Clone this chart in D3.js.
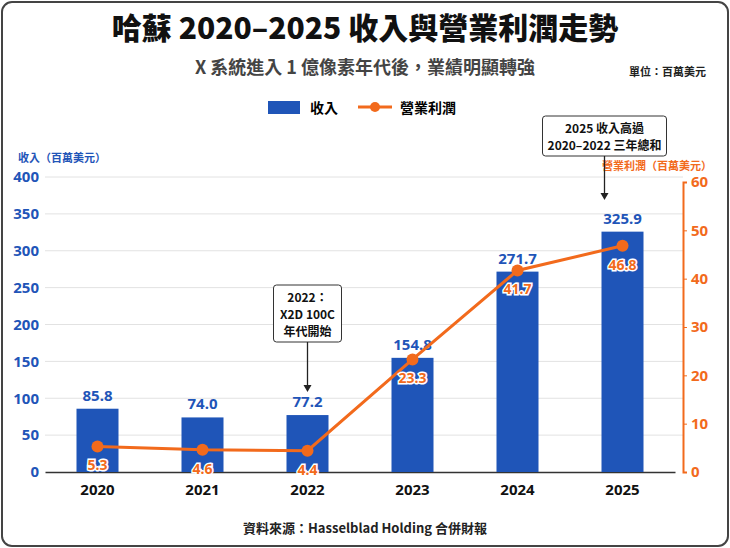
<!DOCTYPE html>
<html><head><meta charset="utf-8">
<script src="https://cdn.jsdelivr.net/npm/d3@7"></script>
<style>body{margin:0;background:#fff;font-family:"Noto Sans CJK TC","Noto Sans",sans-serif}</style>
</head><body><div id="chart"></div>
<script>
var years = ["2020", "2021", "2022", "2023", "2024", "2025"];
var revenue = [85.8, 74.0, 77.2, 154.8, 271.7, 325.9];
var profit = [5.3, 4.6, 4.4, 23.3, 41.7, 46.8];
var leftTicks = [0, 50, 100, 150, 200, 250, 300, 350, 400];
var rightTicks = [0, 10, 20, 30, 40, 50, 60];

var W = 730, H = 548;
var blue = "#1f55b8", orange = "#f26a1c";
var svg = d3.select("#chart").append("svg").attr("width", W).attr("height", H);

svg.append("rect").attr("x", 2).attr("y", 2).attr("width", W - 4).attr("height", H - 4)
    .attr("rx", 10).attr("fill", "#fff").attr("stroke", "#444").attr("stroke-width", 2);

svg.append("text").attr("x", 365).attr("y", 39).attr("text-anchor", "middle")
    .attr("font-size", 30).attr("font-weight", 900).attr("fill", "#111")
    .text("哈蘇 2020–2025 收入與營業利潤走勢");
svg.append("text").attr("x", 365).attr("y", 74).attr("text-anchor", "middle")
    .attr("font-size", 18).attr("font-weight", 700).attr("fill", "#444")
    .text("X 系統進入 1 億像素年代後，業績明顯轉強");
svg.append("text").attr("x", 706).attr("y", 76).attr("text-anchor", "end")
    .attr("font-size", 11).attr("font-weight", 700).attr("fill", "#222").text("單位：百萬美元");

// legend
svg.append("rect").attr("x", 268).attr("y", 101).attr("width", 32).attr("height", 13).attr("fill", blue);
svg.append("text").attr("x", 310).attr("y", 113).attr("font-size", 14).attr("font-weight", 700).text("收入");
svg.append("line").attr("x1", 358).attr("x2", 392).attr("y1", 107).attr("y2", 107).attr("stroke", orange).attr("stroke-width", 3);
svg.append("circle").attr("cx", 375).attr("cy", 107).attr("r", 5).attr("fill", orange);
svg.append("text").attr("x", 400).attr("y", 113).attr("font-size", 14).attr("font-weight", 700).text("營業利潤");

var x = d3.scaleBand().domain(years).range([45, 675]).paddingInner(0.6).paddingOuter(0.3);
var yL = d3.scaleLinear().domain([0, 400]).range([472, 177]);
var yR = d3.scaleLinear().domain([0, 60]).range([472, 182]);

// grid
svg.append("g").selectAll("line").data(leftTicks.slice(1)).enter().append("line")
    .attr("x1", 45).attr("x2", 683).attr("y1", d => yL(d)).attr("y2", d => yL(d))
    .attr("stroke", "#e2e2e2");

var gl = svg.append("g").attr("transform", "translate(45,0)")
    .call(d3.axisLeft(yL).tickValues(leftTicks).tickSize(0).tickPadding(6));
gl.select(".domain").remove();
gl.selectAll("text").attr("fill", blue).attr("font-size", 15).attr("font-weight", 700)
    .attr("font-family", "Noto Sans, sans-serif");

var gr = svg.append("g").attr("transform", "translate(683,0)")
    .call(d3.axisRight(yR).tickValues(rightTicks).tickSize(4).tickPadding(4));
gr.select(".domain").attr("stroke", orange).attr("stroke-width", 2);
gr.selectAll("line").attr("stroke", orange);
gr.selectAll("text").attr("fill", orange).attr("font-size", 15).attr("font-weight", 700)
    .attr("font-family", "Noto Sans, sans-serif");

svg.append("text").attr("x", 18).attr("y", 162).attr("font-size", 11).attr("font-weight", 700)
    .attr("fill", blue).text("收入（百萬美元）");
svg.append("text").attr("x", 712).attr("y", 170).attr("text-anchor", "end").attr("font-size", 11)
    .attr("font-weight", 700).attr("fill", orange).text("營業利潤（百萬美元）");

var gx = svg.append("g").attr("transform", "translate(0,472)")
    .call(d3.axisBottom(x).tickSize(0).tickPadding(12));
gx.select(".domain").attr("stroke", "#333").attr("stroke-width", 1.5);
gx.selectAll("text").attr("font-size", 15).attr("font-weight", 700).attr("fill", "#111")
    .attr("font-family", "Noto Sans, sans-serif");

// bars
svg.append("g").selectAll("rect").data(revenue).enter().append("rect")
    .attr("x", (d, i) => x(years[i])).attr("width", x.bandwidth())
    .attr("y", d => yL(d)).attr("height", d => 472 - yL(d)).attr("fill", blue);
svg.append("g").selectAll("text").data(revenue).enter().append("text")
    .attr("x", (d, i) => x(years[i]) + x.bandwidth() / 2).attr("y", d => yL(d) - 8)
    .attr("text-anchor", "middle").attr("font-size", 15).attr("font-weight", 700)
    .attr("fill", blue).attr("font-family", "Noto Sans, sans-serif").text(d => d.toFixed(1));

// profit line
var cx = (d, i) => x(years[i]) + x.bandwidth() / 2;
svg.append("path").datum(profit)
    .attr("d", d3.line().x(cx).y(d => yR(d)))
    .attr("fill", "none").attr("stroke", orange).attr("stroke-width", 3);
svg.append("g").selectAll("circle").data(profit).enter().append("circle")
    .attr("cx", cx).attr("cy", d => yR(d)).attr("r", 6).attr("fill", orange);
svg.append("g").selectAll("text").data(profit).enter().append("text")
    .attr("x", cx).attr("y", d => yR(d) + 24).attr("text-anchor", "middle")
    .attr("font-size", 14).attr("font-weight", 700).attr("fill", orange)
    .attr("stroke", "#fff").attr("stroke-width", 3).attr("paint-order", "stroke")
    .attr("font-family", "Noto Sans, sans-serif").text(d => d.toFixed(1));

// annotations
function note(cxp, top, w, lines, arrowEnd) {
    var h = lines.length * 17 + 6;
    var g = svg.append("g");
    g.append("rect").attr("x", cxp - w / 2).attr("y", top).attr("width", w).attr("height", h)
        .attr("rx", 3).attr("fill", "#fff").attr("stroke", "#333");
    lines.forEach(function(t, i) {
        g.append("text").attr("x", cxp).attr("y", top + 17 + i * 17).attr("text-anchor", "middle")
            .attr("font-size", 12).attr("font-weight", 700).attr("fill", "#111").text(t);
    });
    g.append("line").attr("x1", cxp).attr("x2", cxp).attr("y1", top + h).attr("y2", arrowEnd - 6)
        .attr("stroke", "#222").attr("stroke-width", 1.3);
    g.append("path").attr("d", "M" + (cxp - 4) + "," + (arrowEnd - 7) + "L" + (cxp + 4) + "," + (arrowEnd - 7) + "L" + cxp + "," + arrowEnd)
        .attr("fill", "#222");
}
note(cx(0, 2), 285, 68, ["2022：", "X2D 100C", "年代開始"], 392);
note(cx(0, 5) - 18, 116, 124, ["2025 收入高過", "2020–2022 三年總和"], 200);

svg.append("text").attr("x", 365).attr("y", 533).attr("text-anchor", "middle")
    .attr("font-size", 13).attr("font-weight", 700).attr("fill", "#222")
    .text("資料來源：Hasselblad Holding 合併財報");
</script></body></html>
